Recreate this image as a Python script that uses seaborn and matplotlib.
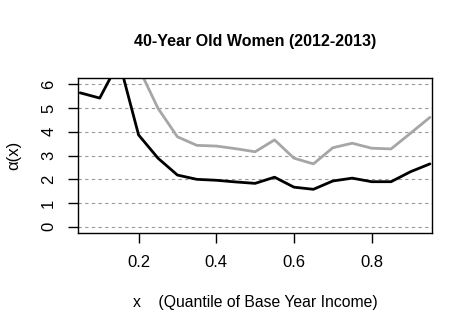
import matplotlib
matplotlib.use("Agg")
import matplotlib.pyplot as plt
import seaborn as sns
import pandas as pd

# quantiles of base year income
x = [0.05, 0.10, 0.15, 0.20, 0.25, 0.30, 0.35, 0.40, 0.45, 0.50,
     0.55, 0.60, 0.65, 0.70, 0.75, 0.80, 0.85, 0.90, 0.95]
# estimate (black) and upper curve (gray)
alpha_est = [5.64, 5.42, 6.97, 3.87, 2.89, 2.18, 2.00, 1.96, 1.89, 1.83,
             2.09, 1.67, 1.58, 1.93, 2.05, 1.90, 1.90, 2.32, 2.65]
alpha_upper = [8.0, 8.0, 9.5, 6.7, 4.99, 3.79, 3.43, 3.40, 3.29, 3.16,
               3.66, 2.89, 2.65, 3.33, 3.52, 3.31, 3.28, 3.94, 4.61]
yticks = [0, 1, 2, 3, 4, 5, 6]
xticks = [0.2, 0.4, 0.6, 0.8]

sns.set_style("white")
plt.rcParams['font.family'] = ['Liberation Sans', 'DejaVu Sans']
plt.rcParams['text.color'] = 'black'
plt.rcParams['axes.labelcolor'] = 'black'
plt.rcParams['xtick.color'] = 'black'
plt.rcParams['ytick.color'] = 'black'

df = pd.DataFrame({'x': x, 'est': alpha_est, 'upper': alpha_upper})

fig = plt.figure(figsize=(4.72, 3.31), dpi=100)
ax = fig.add_axes([0.166, 0.296, 0.749, 0.468])

for yv in yticks:
    ax.axhline(yv, color='#999999', linestyle=(0, (3, 3)), linewidth=0.8, zorder=0)

sns.lineplot(data=df, x='x', y='upper', color='#a6a6a6', linewidth=2, ax=ax)
sns.lineplot(data=df, x='x', y='est', color='black', linewidth=2, ax=ax)

ax.set_xlim(0.045, 0.955)
ax.set_ylim(-0.26, 6.26)
ax.set_xticks(xticks)
ax.set_xticklabels([str(t) for t in xticks], fontsize=12)
ax.set_yticks(yticks)
ax.set_yticklabels([str(t) for t in yticks], fontsize=12, rotation=90, va='center')
ax.tick_params(axis='both', direction='out', length=7, width=1, color='black',
               bottom=True, left=True, pad=9)
for s in ax.spines.values():
    s.set_color('black')
    s.set_linewidth(1)

ax.set_xlabel('x    (Quantile of Base Year Income)', fontsize=11.3, labelpad=18)
ax.set_ylabel('\u03b1(x)', fontsize=12, labelpad=14)
ax.set_title('40-Year Old Women (2012-2013)', fontsize=11.5, fontweight='bold', pad=23)

fig.savefig('out.png', dpi=100)
